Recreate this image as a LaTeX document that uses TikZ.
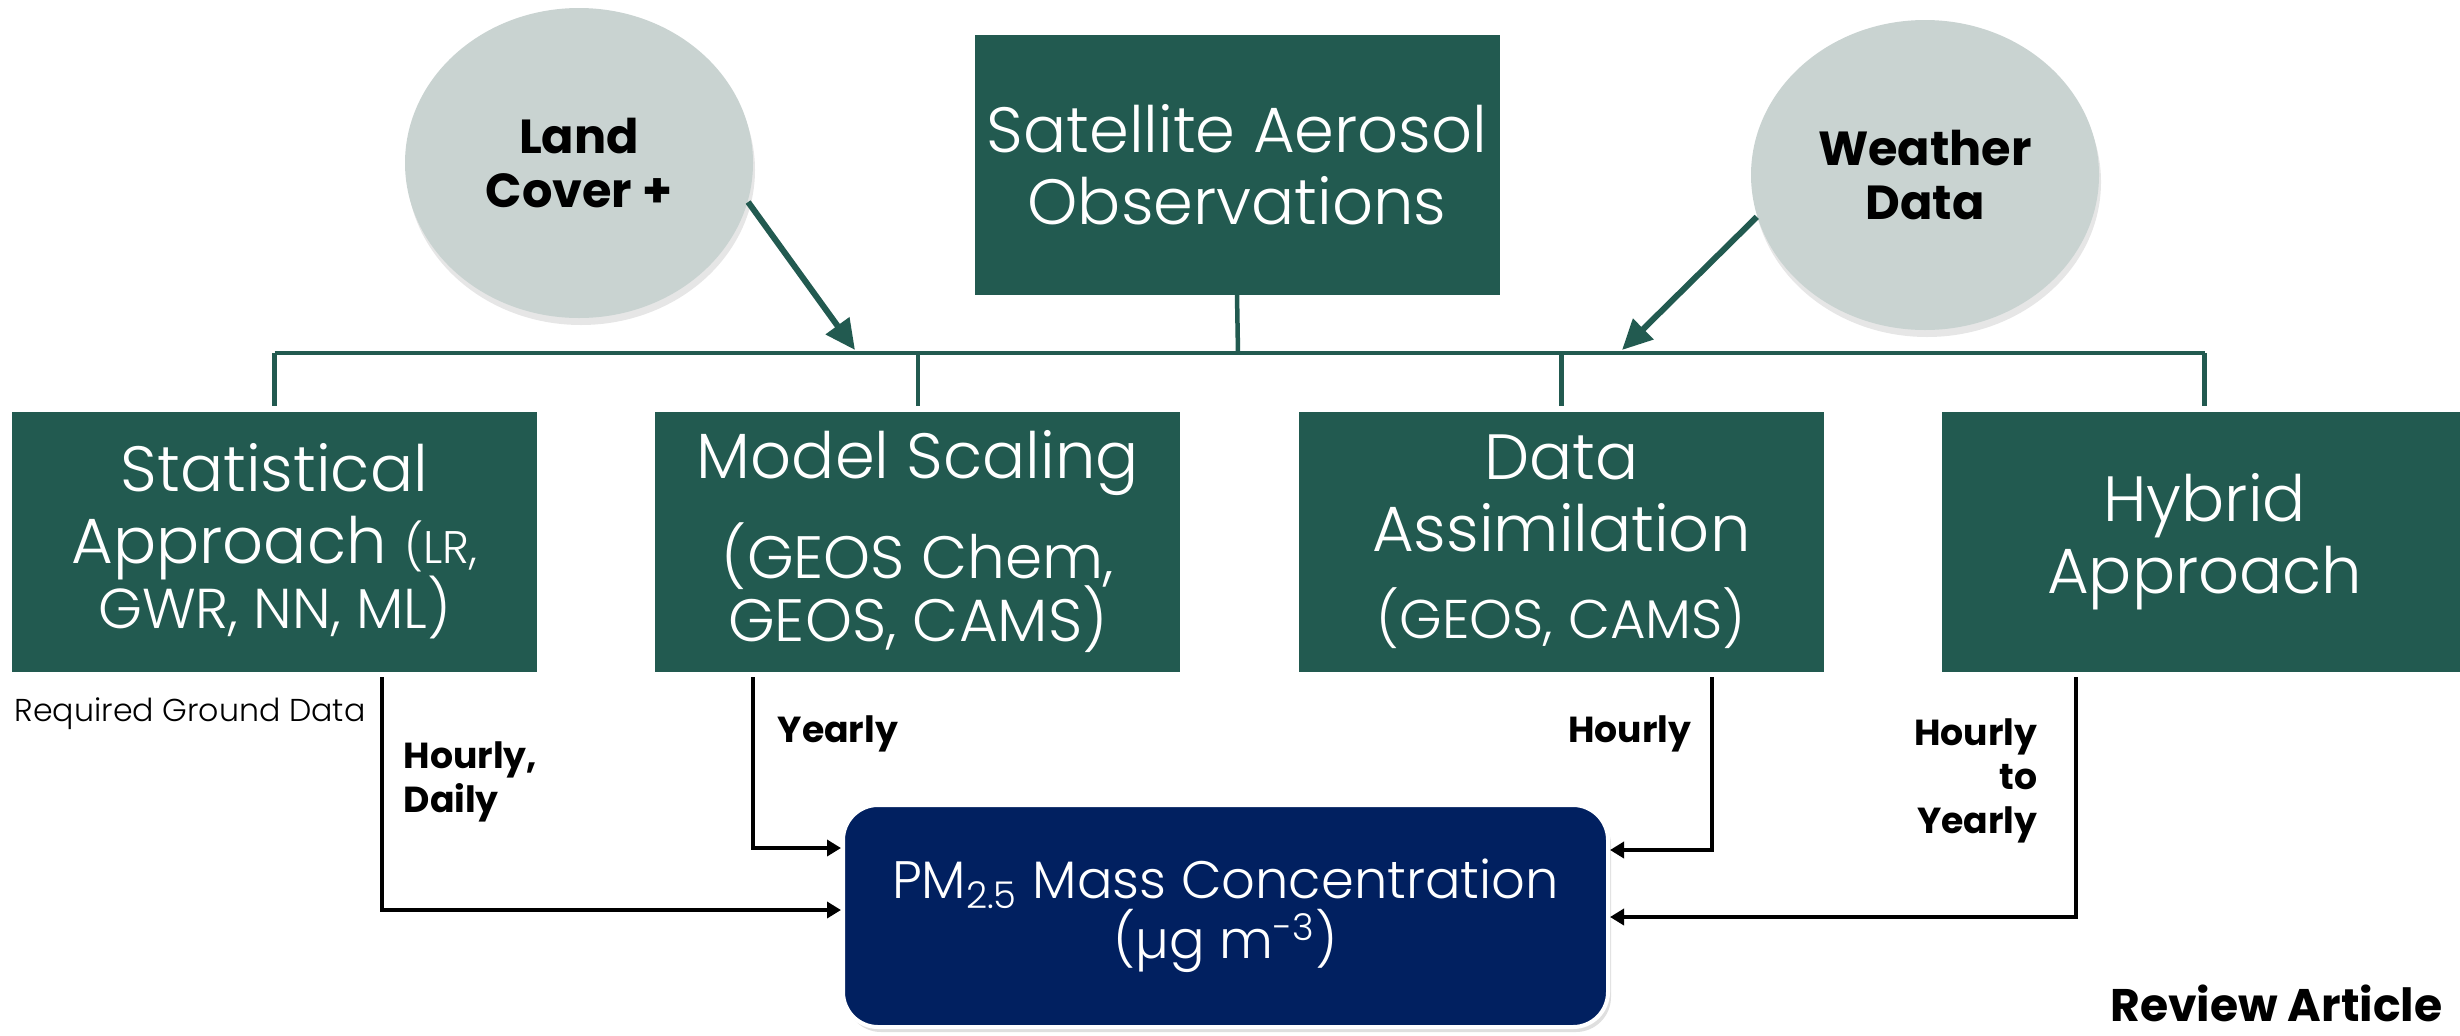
\documentclass[tikz,border=0pt]{standalone}
\usepackage{fontspec}
\setmainfont{Poppins}
\newfontfamily\lightfont{Poppins Light}
\usepackage{tikz}
\usetikzlibrary{positioning, calc, shapes.geometric, shadows, arrows.meta}

\definecolor{boxgreen}{HTML}{225A50}
\definecolor{ovalgray}{HTML}{C9D3D1}
\definecolor{pmnavy}{HTML}{012060}

\newcommand{\bigtxt}{\lightfont\fontsize{18.2}{20.5}\selectfont}
\newcommand{\midtxt}{\lightfont\fontsize{15}{17.1}\selectfont}
\newcommand{\smalltxt}{\lightfont\fontsize{13}{15}\selectfont}
\newcommand{\ovaltxt}{\bfseries\fontsize{13.6}{15.6}\selectfont}
\newcommand{\lbltxt}{\bfseries\fontsize{10.3}{12.5}\selectfont}
\newcommand{\revtxt}{\bfseries\fontsize{13}{15}\selectfont}
\newcommand{\reqtxt}{\lightfont\fontsize{9}{10}\selectfont}

\tikzset{
  greenbox/.style={rectangle, fill=boxgreen, text=white, minimum width=52.5mm,
    minimum height=26mm, inner sep=0pt, align=center, font=\bigtxt},
  oval/.style={ellipse, fill=ovalgray, minimum width=34.8mm, minimum height=31mm,
    inner sep=0pt, align=center, font=\ovaltxt,
    drop shadow={shadow xshift=0.2mm, shadow yshift=-0.7mm, opacity=0.2}},
  pmbox/.style={rectangle, rounded corners=3.5mm, fill=pmnavy, draw=white,
    line width=0.4mm, text=white, minimum width=76.5mm, minimum height=22.2mm,
    inner sep=0pt, align=center, font=\midtxt,
    drop shadow={shadow xshift=0.3mm, shadow yshift=-0.5mm, opacity=0.25}},
  busline/.style={draw=boxgreen, line width=0.45mm},
  inarrow/.style={boxgreen, line width=0.6mm, -{Triangle[length=3mm, width=2.8mm]}},
  flow/.style={black, line width=0.4mm, -{Triangle[length=1.4mm, width=1.6mm]}},
  lbl/.style={font=\lbltxt, inner sep=0pt}
}

\begin{document}
\begin{tikzpicture}[x=0.1mm, y=-0.1mm]
        \useasboundingbox (0,0) rectangle (2460,1035);

        % Hộp trên cùng và hai hình bầu dục
        \node[greenbox] (sat) at (1237,164.5) {Satellite Aerosol\\Observations};
        \node[oval] (landcov) at (579,163) {Land\\Cover +};
        \node[oval] (weather) at (1925,175) {Weather\\Data};

        % Bốn hộp phương pháp
        \node[greenbox] (stat) at (274.5,541.5)
            {Statistical\\Approach {\smalltxt (LR,}\\[-2pt]{\lightfont\fontsize{16}{18}\selectfont GWR, NN, ML)}};
        \node[greenbox, right=11.7mm of stat] (model)
            {Model Scaling\\[6.5pt]{\lightfont\fontsize{17}{20}\selectfont (GEOS Chem,}\\[-2.5pt]{\lightfont\fontsize{17}{20}\selectfont GEOS, CAMS)}};
        \node[greenbox, right=11.7mm of model] (assim)
            {Data\\Assimilation\\[4.3pt]{\lightfont\fontsize{15.5}{18}\selectfont (GEOS, CAMS)}};
        \node[greenbox, right=11.7mm of assim] (hybrid) {Hybrid\\Approach};

        % Hộp kết quả PM2.5
        \node[pmbox] (pm) at (1225.5,916)
            {PM\textsubscript{2.5} Mass Concentration\\(µg m\textsuperscript{-3})};

        % Đường nối ngang
        \coordinate (bus) at (1238,353);
        \draw[busline] (sat.south) -- (bus);
        \draw[busline] (bus -| stat.north) -- (bus -| hybrid.north);
        \foreach \b in {stat, model, assim, hybrid}
            \draw[busline, shorten >=0.5mm] (bus -| \b.north) -- (\b.north);

        % Mũi tên từ hai hình bầu dục
        \coordinate (landtip) at (855,350);
        \coordinate (weathertip) at (1622,350);
        \draw[inarrow] (landcov.-13) -- (landtip);
        \draw[inarrow] (weather.194) -- (weathertip);

        % Mũi tên tới hộp PM2.5
        \draw[flow] ($(stat.south)+(107,5)$) |- ($(pm.west)+(0,-6)$);
        \draw[flow] ($(model.south)+(-164.5,5)$) |- ($(pm.west)+(0,-68)$);
        \draw[flow] ($(assim.south)+(150.5,5)$) |- ($(pm.east)+(0,-66)$);
        \draw[flow] ($(hybrid.south)+(-128.5,5)$) |- ($(pm.east)+(0,1)$);

        % Nhãn
        \node[lbl, anchor=north west, align=left] (hd) at (403,741) {Hourly,\\Daily};
        \node[lbl, anchor=north west] (yr) at (777,715) {Yearly};
        \node[lbl, anchor=north east] (hr) at (1692,715) {Hourly};
        \node[lbl, anchor=north east, align=right] (hy) at (2038,718) {Hourly\\to\\Yearly};
        \node[anchor=base west, inner sep=0pt, font=\reqtxt] (req) at (14,721) {Required Ground Data};
        \node[anchor=base east, inner sep=0pt, font=\revtxt] (rev) at (2443,1021) {Review Article};
\end{tikzpicture}
\end{document}
